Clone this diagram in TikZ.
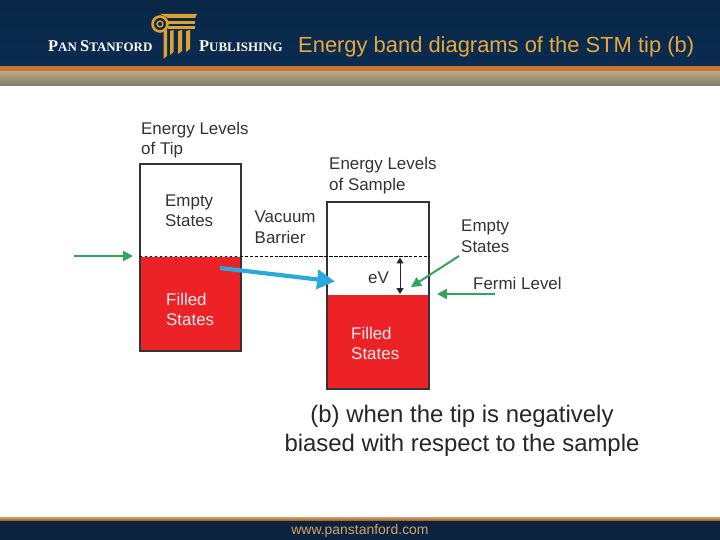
\documentclass[tikz,border=0pt]{standalone}
\usepackage{fontspec}
\setmainfont{Liberation Sans}
\newfontfamily\logofont{Liberation Serif}[Scale=1]
\usetikzlibrary{arrows.meta}
\definecolor{navy}{HTML}{0A2C50}
\definecolor{navyfoot}{HTML}{0C2340}
\definecolor{bandorange}{HTML}{C8742F}
\definecolor{tantop}{HTML}{BCA884}
\definecolor{tanlow}{HTML}{7F7767}
\definecolor{gold}{HTML}{E0A030}
\definecolor{titlegold}{HTML}{E5A93F}
\definecolor{footgold}{HTML}{D9A066}
\definecolor{bandred}{HTML}{EC2227}
\definecolor{bandgreen}{HTML}{2FA65A}
\definecolor{tunnelblue}{HTML}{29A9DC}
\definecolor{boxline}{HTML}{333333}
\definecolor{labeltext}{HTML}{333333}
\tikzset{
	lbl/.style={align=left, anchor=north west, inner sep=0pt, text=labeltext, font=\fontsize{17}{20.5}\selectfont},
	lblred/.style={lbl, text=white!92!red},
	bandbox/.style={draw=boxline, line width=1.8pt},
	greenarrow/.style={draw=bandgreen, line width=2pt, -{Triangle[length=10pt,width=10pt]}},
	logotext/.style={inner sep=0pt, text=white, font=\logofont\bfseries}
}
\begin{document}
\begin{tikzpicture}[x=1bp,y=-1bp]
	\useasboundingbox (0,0) rectangle (720,540);
	\fill[white] (0,0) rectangle (720,540);

	% header and footer
	\shade[top color=navy!90!black, bottom color=navy] (0,0) rectangle (720,66);
	\fill[bandorange] (0,66) rectangle (720,71.5);
	\shade[top color=tantop, middle color=tantop, bottom color=tanlow] (0,71.5) rectangle (720,86);
	\shade[top color=footgold, bottom color=bandorange!75!black] (0,517) rectangle (720,521);
	\fill[navyfoot] (0,521) rectangle (720,540);

	% logo
	\node[logotext, anchor=west] (pan) at (48,46) {\fontsize{16.5}{18}\selectfont P\fontsize{13}{18}\selectfont AN \fontsize{16.5}{18}\selectfont S\fontsize{13}{18}\selectfont TANFORD};
	\node[logotext, anchor=west] (pub) at (199,46) {\fontsize{16.5}{18}\selectfont P\fontsize{13}{18}\selectfont UBLISHING};
	\draw[gold, line width=2.6pt] (160,24) circle [radius=7.5pt];
	\draw[gold, line width=1.4pt] (160,24) circle [radius=3pt];
	\fill[gold] (160,14) -- (197,14) -- (195,18) -- (168,18) -- cycle;
	\foreach \y in {21,26}
	{
		\fill[gold] (168,\y) rectangle (194.5,\y+2.6);
	};
	\foreach \i / \j / \k in {
	163.5/167/59,
	170/173.5/55,
	178/182/54,
	186/190/52}
	{
		\fill[gold] (\i,31) -- (\j,30) -- (\j,\k-3) -- (\i,\k) -- cycle;
	};

	\node[anchor=west, inner sep=0pt, text=titlegold, font=\fontsize{22}{26}\selectfont] (title) at (298,46.5) {Energy band diagrams of the STM tip (b)};
	\node[inner sep=0pt, text=footgold, font=\fontsize{14}{16}\selectfont] (url) at (360,530.5) {www.panstanford.com};

	% bands
	\fill[bandred] (140,256) rectangle (241,351);
	\fill[bandred] (327,295) rectangle (429,389);
	\draw[bandbox] (140,164) rectangle (241,351);
	\draw[bandbox] (327,202) rectangle (429,389);

	\coordinate (dashl) at (140,256.5);
	\coordinate (dashr) at (429,256.5);
	\draw[line width=1.1pt, dash pattern=on 3.5pt off 1.5pt, black] (dashl) -- (dashr);
	\draw[white, line width=1pt, dash pattern=on 3.5pt off 1.5pt] (142,256.5) -- (240,256.5);

	% labels
	\node[lbl] (tiplevels) at (141,122) {Energy Levels\\of Tip};
	\node[lbl] (samplelevels) at (329,157.5) {Energy Levels\\of Sample};
	\node[lbl] (tipempty) at (165,194.5) {Empty\\States};
	\node[lblred] (tipfilled) at (166,293) {Filled\\States};
	\node[lblred] (samplefilled) at (351,327) {Filled\\States};
	\node[lbl] (vacuum) at (254.5,211) {Vacuum\\Barrier};
	\node[lbl] (sampleempty) at (461,220) {Empty\\States};
	\node[lbl, anchor=west] (fermi) at (473,283) {Fermi Level};
	\node[lbl, anchor=west] (ev) at (368,278) {eV};

	% arrows
	\coordinate (gl1) at (74,256);
	\coordinate (gl2) at (133,256);
	\coordinate (gm1) at (459,256);
	\coordinate (gm2) at (411,287);
	\coordinate (gf1) at (495,294);
	\coordinate (gf2) at (437,294);
	\coordinate (ev1) at (400,257.5);
	\coordinate (ev2) at (400,294);
	\coordinate (tun1) at (220,268);
	\coordinate (tun2) at (335,281.5);

	\foreach \i / \j in {
	gl1/gl2,
	gm1/gm2,
	gf1/gf2}
	{
		\draw[greenarrow] (\i) -- (\j);
	};
	\draw[{Triangle[length=6pt,width=7pt]}-{Triangle[length=6pt,width=7pt]}, line width=1pt, black!85] (ev1) -- (ev2);
	\draw[tunnelblue, line width=4.2pt, -{Triangle[length=18pt,width=19pt,inset=0pt]}] (tun1) -- (tun2);

	\node[inner sep=0pt, align=center, text=black!85, font=\fontsize{24}{28.5}\selectfont] (caption) at (462,431) {(b) when the tip is negatively\\biased with respect to the sample};
\end{tikzpicture}
\end{document}
